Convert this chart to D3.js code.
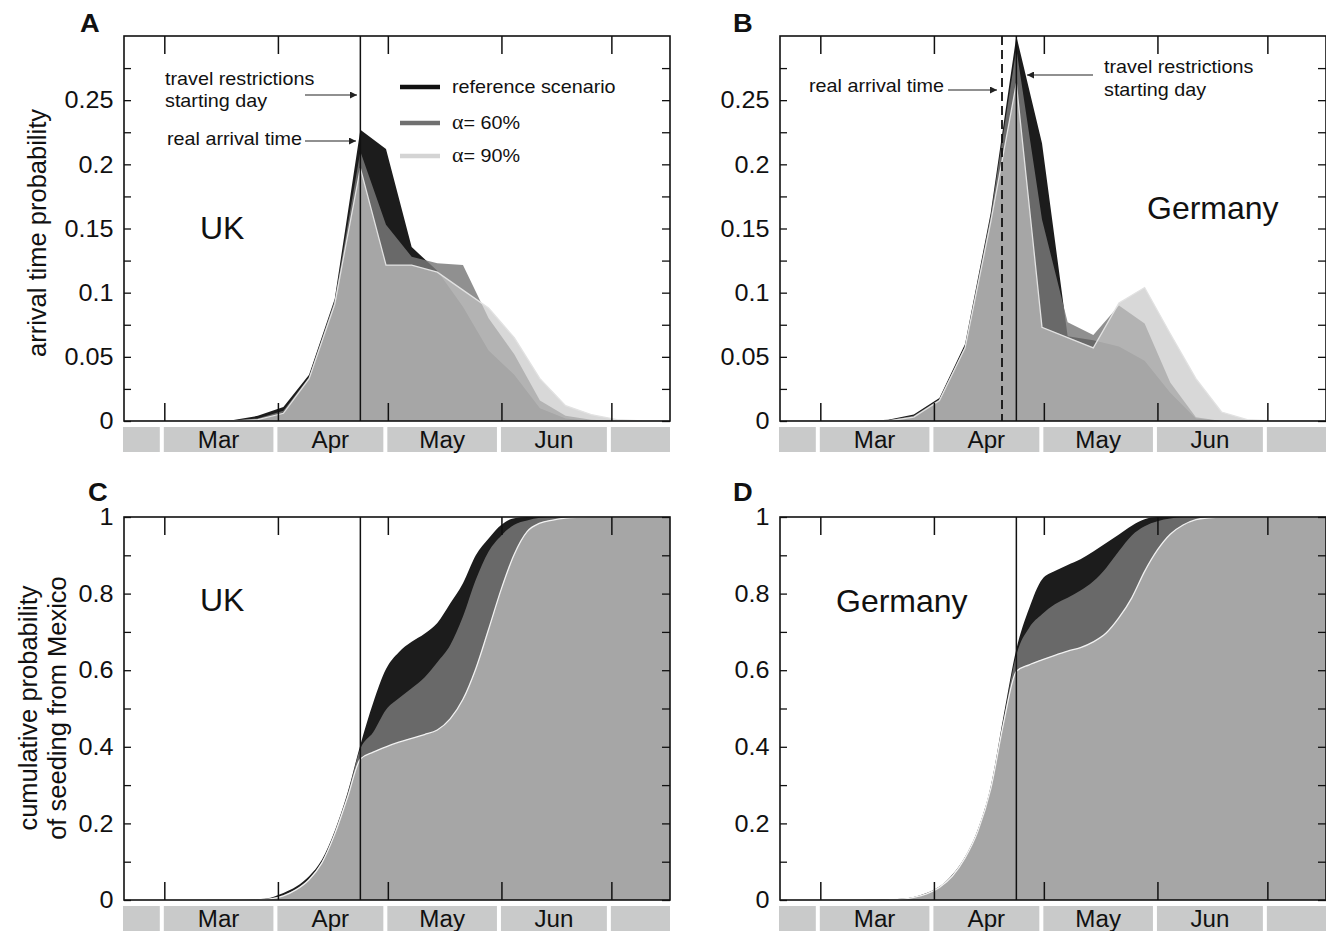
<!DOCTYPE html>
<html><head><meta charset="utf-8">
<script src="https://cdn.jsdelivr.net/npm/d3@7"></script>
<style>body{margin:0;background:#fff;} text{font-family:"Liberation Sans",Arial,sans-serif;}</style>
</head><body><script>
// ---------------- DATA ----------------
const weekDates = ["2009-02-19 12:00","2009-02-26 12:00","2009-03-05 12:00","2009-03-12 12:00","2009-03-19 12:00","2009-03-26 12:00","2009-04-02 12:00","2009-04-09 12:00","2009-04-16 12:00","2009-04-23 12:00","2009-04-30 12:00","2009-05-07 12:00","2009-05-14 12:00","2009-05-21 12:00","2009-05-28 12:00","2009-06-04 12:00","2009-06-11 12:00","2009-06-18 12:00","2009-06-25 12:00","2009-07-02 12:00","2009-07-09 12:00","2009-07-16 12:00"];
const ukArrivalRef = [0,0,0,0,0.0005,0.004,0.011,0.036,0.095,0.227,0.212,0.1355,0.117,0.089,0.055,0.036,0.01,0.002,0,0,0,0];
const ukArrival60  = [0,0,0,0,0,0.002,0.008,0.034,0.094,0.21,0.153,0.128,0.123,0.1215,0.08,0.052,0.016,0.004,0.001,0,0,0];
const ukArrival90  = [0,0,0,0,0,0.001,0.006,0.033,0.091,0.197,0.1215,0.1215,0.116,0.102,0.088,0.065,0.033,0.012,0.005,0.001,0,0];
const deArrivalRef = [0,0,0,0,0.001,0.005,0.018,0.06,0.162,0.3,0.2165,0.066,0.063,0.058,0.047,0.022,0.002,0,0,0,0,0];
const deArrival60  = [0,0,0,0,0.0005,0.004,0.017,0.058,0.16,0.29,0.157,0.077,0.067,0.09,0.076,0.03,0.003,0,0,0,0,0];
const deArrival90  = [0,0,0,0,0,0.003,0.016,0.057,0.155,0.263,0.073,0.065,0.057,0.092,0.104,0.068,0.033,0.007,0.001,0,0,0];

const cumDates = ["2009-03-12 12:00","2009-03-16 00:00","2009-03-19 12:00","2009-03-23 00:00","2009-03-26 12:00","2009-03-30 00:00","2009-04-02 12:00","2009-04-06 00:00","2009-04-09 12:00","2009-04-13 00:00","2009-04-16 12:00","2009-04-20 00:00","2009-04-23 12:00","2009-04-27 00:00","2009-04-30 12:00","2009-05-04 00:00","2009-05-07 12:00","2009-05-11 00:00","2009-05-14 12:00","2009-05-18 00:00","2009-05-21 12:00","2009-05-25 00:00","2009-05-28 12:00","2009-06-01 00:00","2009-06-04 12:00","2009-06-08 00:00","2009-06-11 12:00","2009-06-15 00:00","2009-06-18 12:00","2009-06-22 00:00","2009-06-25 12:00","2009-06-29 00:00","2009-07-02 12:00","2009-07-06 00:00","2009-07-09 12:00","2009-07-13 00:00","2009-07-16 12:00","2009-07-20 00:00"];
const ukCumRef = [0,0,0,0.0005,0.002,0.006,0.018,0.035,0.062,0.105,0.18,0.28,0.405,0.515,0.603,0.647,0.674,0.695,0.723,0.774,0.827,0.9,0.944,0.98,0.997,1,1,1,1,1,1,1,1,1,1,1,1,1];
const ukCum60  = [0,0,0,0,0.001,0.004,0.013,0.029,0.056,0.1,0.177,0.276,0.395,0.438,0.497,0.527,0.553,0.581,0.621,0.665,0.74,0.836,0.91,0.952,0.98,0.991,0.998,1,1,1,1,1,1,1,1,1,1,1];
const ukCum90  = [0,0,0,0,0.0005,0.003,0.011,0.027,0.053,0.097,0.172,0.268,0.368,0.386,0.4,0.412,0.422,0.432,0.444,0.473,0.524,0.604,0.707,0.813,0.903,0.962,0.984,0.992,0.997,0.999,1,1,1,1,1,1,1,1];
const deCumRef = [0,0.0005,0.001,0.003,0.008,0.018,0.035,0.066,0.113,0.185,0.297,0.48,0.655,0.762,0.837,0.859,0.875,0.89,0.91,0.932,0.954,0.977,0.994,1,1,1,1,1,1,1,1,1,1,1,1,1,1,1];
const deCum60  = [0,0,0.001,0.003,0.008,0.017,0.034,0.064,0.112,0.183,0.293,0.47,0.64,0.711,0.746,0.772,0.789,0.808,0.832,0.867,0.911,0.952,0.976,0.989,0.996,1,1,1,1,1,1,1,1,1,1,1,1,1];
const deCum90  = [0,0,0.0005,0.002,0.007,0.016,0.033,0.062,0.11,0.18,0.29,0.462,0.597,0.614,0.627,0.639,0.65,0.659,0.674,0.697,0.737,0.789,0.858,0.914,0.955,0.979,0.993,0.998,1,1,1,1,1,1,1,1,1,1];

const monthStarts = ["2009-03-01 00:00","2009-04-01 00:00","2009-05-01 00:00","2009-06-01 00:00","2009-07-01 00:00"];
const monthLabels = ["Mar","Apr","May","Jun"];
const arrivalTicksMajor = [0,0.05,0.1,0.15,0.2,0.25];
const arrivalTicksMinor = [0.025,0.075,0.125,0.175,0.225,0.275];
const cumTicksMajor = [0,0.2,0.4,0.6,0.8,1];
const cumTicksMinor = [0.1,0.3,0.5,0.7,0.9];
const restrictionDate = "2009-04-23 12:00";
const realArrivalDE = "2009-04-19 14:00";
const legendLabels = ["reference scenario","60%","90%"];

// ---------------- STYLE ----------------
const P = d3.timeParse("%Y-%m-%d %H:%M");
const seriesStyle = [
  {fill:"#1c1c1c", op:1},
  {fill:"#7a7a7a", op:0.83},
  {fill:"#c4c4c4", op:0.665}
];
const svg = d3.select("body").append("svg").attr("width",1326).attr("height",931);
const defs = svg.append("defs");
defs.append("marker").attr("id","arr").attr("viewBox","0 0 10 10").attr("refX",10).attr("refY",5)
  .attr("markerWidth",9).attr("markerHeight",7).attr("markerUnits","userSpaceOnUse").attr("orient","auto")
  .append("path").attr("d","M0,0L10,5L0,10z").attr("fill","#222");

function label(g, x, y, str, o={}) {
  const {size=19, sx=1.04, anchor="start", weight="normal", fill="#111"} = o;
  return g.append("text").attr("transform",`translate(${x},${y}) scale(${sx},1)`)
    .attr("text-anchor",anchor).attr("font-size",size).attr("font-weight",weight).attr("fill",fill).text(str);
}

const panels = [
  {letter:"A", lx:80, ly:32, left:124, right:670, top:36, bottom:421, ymax:0.3, dates:weekDates,
   series:[ukArrivalRef,ukArrival60,ukArrival90], curve:d3.curveLinear, majors:arrivalTicksMajor, minors:arrivalTicksMinor,
   country:"UK", cx:200, cy:239, outline:"#e2e2e2"},
  {letter:"B", lx:733, ly:32, left:780, right:1326, top:36, bottom:421, ymax:0.3, dates:weekDates,
   series:[deArrivalRef,deArrival60,deArrival90], curve:d3.curveLinear, majors:arrivalTicksMajor, minors:arrivalTicksMinor,
   country:"Germany", cx:1147, cy:219, outline:"#e2e2e2"},
  {letter:"C", lx:88, ly:501, left:124, right:670, top:517, bottom:900, ymax:1, dates:cumDates,
   series:[ukCumRef,ukCum60,ukCum90], curve:d3.curveMonotoneX, majors:cumTicksMajor, minors:cumTicksMinor,
   country:"UK", cx:200, cy:611, outline:"#f2f2f2"},
  {letter:"D", lx:733, ly:501, left:780, right:1326, top:517, bottom:900, ymax:1, dates:cumDates,
   series:[deCumRef,deCum60,deCum90], curve:d3.curveMonotoneX, majors:cumTicksMajor, minors:cumTicksMinor,
   country:"Germany", cx:836, cy:612, outline:"#f2f2f2"}
];

panels.forEach(p => {
  const g = svg.append("g");
  const x = d3.scaleTime().domain([P("2009-02-18 00:00"), P("2009-07-17 00:00")]).range([p.left, p.right]);
  const y = d3.scaleLinear().domain([0,p.ymax]).range([p.bottom, p.top]);
  p.x = x; p.y = y;
  const clipId = "clip"+p.letter;
  defs.append("clipPath").attr("id",clipId).append("rect")
    .attr("x",p.left).attr("y",p.top).attr("width",p.right-p.left).attr("height",p.bottom-p.top);
  const dates = p.dates.map(P);
  const area = d3.area().x((d,i)=>x(dates[i])).y0(y(0)).y1(d=>y(d)).curve(p.curve);
  const line = d3.line().x((d,i)=>x(dates[i])).y(d=>y(d)).curve(p.curve);
  const plot = g.append("g").attr("clip-path",`url(#${clipId})`);
  p.series.forEach((s,i)=>{
    plot.append("path").datum(s).attr("d",area).attr("fill",seriesStyle[i].fill).attr("fill-opacity",seriesStyle[i].op);
  });
  plot.append("path").datum(p.series[2]).attr("d",line).attr("fill","none").attr("stroke",p.outline).attr("stroke-width",1.3);

  // restriction line
  const rx = x(P(restrictionDate));
  g.append("line").attr("x1",rx).attr("x2",rx).attr("y1",p.top).attr("y2",p.bottom).attr("stroke","#111").attr("stroke-width",1.5);

  // axes (inward ticks)
  const fmt = d3.format("~g");
  const la = g.append("g").attr("transform",`translate(${p.left},0)`)
    .call(d3.axisLeft(y).tickValues(p.majors).tickSize(-7).tickPadding(10).tickFormat(fmt));
  la.select(".domain").remove();
  la.selectAll("line").attr("stroke","#111").attr("stroke-width",1.3);
  la.selectAll("text").attr("font-size",24).attr("fill","#111").attr("font-family","Liberation Sans, Arial, sans-serif")
    .attr("transform","scale(1.05,1)");
  const lm = g.append("g").attr("transform",`translate(${p.left},0)`)
    .call(d3.axisLeft(y).tickValues(p.minors).tickSize(-7).tickFormat(""));
  lm.select(".domain").remove(); lm.selectAll("line").attr("stroke","#111").attr("stroke-width",1.3);
  const ra = g.append("g").attr("transform",`translate(${p.right},0)`)
    .call(d3.axisRight(y).tickValues(p.majors.concat(p.minors)).tickSize(-8).tickFormat(""));
  ra.select(".domain").remove(); ra.selectAll("line").attr("stroke","#111").attr("stroke-width",1.3);
  const ms = monthStarts.map(P);
  const ba = g.append("g").attr("transform",`translate(0,${p.bottom})`)
    .call(d3.axisBottom(x).tickValues(ms).tickSize(-18).tickFormat(""));
  ba.select(".domain").remove(); ba.selectAll("line").attr("stroke","#111").attr("stroke-width",1.5);
  const ta = g.append("g").attr("transform",`translate(0,${p.top})`)
    .call(d3.axisTop(x).tickValues(ms).tickSize(-18).tickFormat(""));
  ta.select(".domain").remove(); ta.selectAll("line").attr("stroke","#111").attr("stroke-width",1.5);

  // frame
  g.append("rect").attr("x",p.left).attr("y",p.top).attr("width",p.right-p.left).attr("height",p.bottom-p.top)
    .attr("fill","none").attr("stroke","#111").attr("stroke-width",1.6);

  // month bar
  const edges = [p.left-1].concat(ms.map(d=>x(d)-0.5));
  const ends = ms.map(d=>x(d)-4.5).concat([p.right]);
  const mb = g.append("g");
  edges.forEach((e,i)=>{
    mb.append("rect").attr("x",e).attr("y",p.bottom+6).attr("width",ends[i]-e).attr("height",25).attr("fill","#c9caca");
  });
  monthLabels.forEach((m,i)=>{
    const cxm = (edges[i+1]+ends[i+1])/2;
    label(mb, cxm, p.bottom+27, m, {size:23, sx:1.05, anchor:"middle"});
  });

  // panel letter & country
  label(g, p.lx, p.ly, p.letter, {size:26, sx:1.05, weight:"bold", fill:"#111"});
  label(g, p.cx, p.cy, p.country, {size:32, sx:1.0, fill:"#111"});
});

// ---------------- annotations ----------------
const A = panels[0], B = panels[1];
const ann = svg.append("g");
label(ann, 165, 85, "travel restrictions");
label(ann, 165, 107, "starting day");
ann.append("line").attr("x1",305).attr("x2",357).attr("y1",95).attr("y2",95).attr("stroke","#222").attr("stroke-width",1.2).attr("marker-end","url(#arr)");
label(ann, 167, 145, "real arrival time");
ann.append("line").attr("x1",305).attr("x2",356).attr("y1",141).attr("y2",141).attr("stroke","#222").attr("stroke-width",1.2).attr("marker-end","url(#arr)");

// legend
const legY = [87, 123, 156];
const legCol = ["#111","#707070","#d4d4d4"];
legY.forEach((ly,i)=>{
  ann.append("line").attr("x1",400).attr("x2",440).attr("y1",ly).attr("y2",ly).attr("stroke",legCol[i]).attr("stroke-width",4.5);
  if (i===0) label(ann, 452, ly+6, legendLabels[0]);
  else {
    const t = ann.append("text").attr("transform",`translate(452,${ly+6}) scale(1.04,1)`).attr("font-size",19).attr("fill","#111");
    t.append("tspan").attr("font-family","Liberation Serif, DejaVu Serif, serif").attr("font-size",21).text("α");
    t.append("tspan").text("= " + legendLabels[i]);
  }
});

// Panel B annotations
const dx = B.x(P(realArrivalDE));
svg.append("line").attr("x1",dx).attr("x2",dx).attr("y1",B.top).attr("y2",B.bottom).attr("stroke","#111").attr("stroke-width",1.8).attr("stroke-dasharray","9,5");
label(ann, 809, 92, "real arrival time");
ann.append("line").attr("x1",948).attr("x2",997).attr("y1",90).attr("y2",90).attr("stroke","#222").attr("stroke-width",1.2).attr("marker-end","url(#arr)");
label(ann, 1104, 73, "travel restrictions");
label(ann, 1104, 96, "starting day");
ann.append("line").attr("x1",1093).attr("x2",1027).attr("y1",75).attr("y2",75).attr("stroke","#222").attr("stroke-width",1.2).attr("marker-end","url(#arr)");

// y-axis titles
svg.append("text").attr("transform","translate(37,233) rotate(-90)").attr("text-anchor","middle").attr("dominant-baseline","central")
  .attr("font-size",25.5).attr("fill","#111").text("arrival time probability");
svg.append("text").attr("transform","translate(28,708) rotate(-90)").attr("text-anchor","middle").attr("dominant-baseline","central")
  .attr("font-size",25.5).attr("fill","#111").text("cumulative probability");
svg.append("text").attr("transform","translate(57,708) rotate(-90)").attr("text-anchor","middle").attr("dominant-baseline","central")
  .attr("font-size",25.5).attr("fill","#111").text("of seeding from Mexico");
</script></body></html>
